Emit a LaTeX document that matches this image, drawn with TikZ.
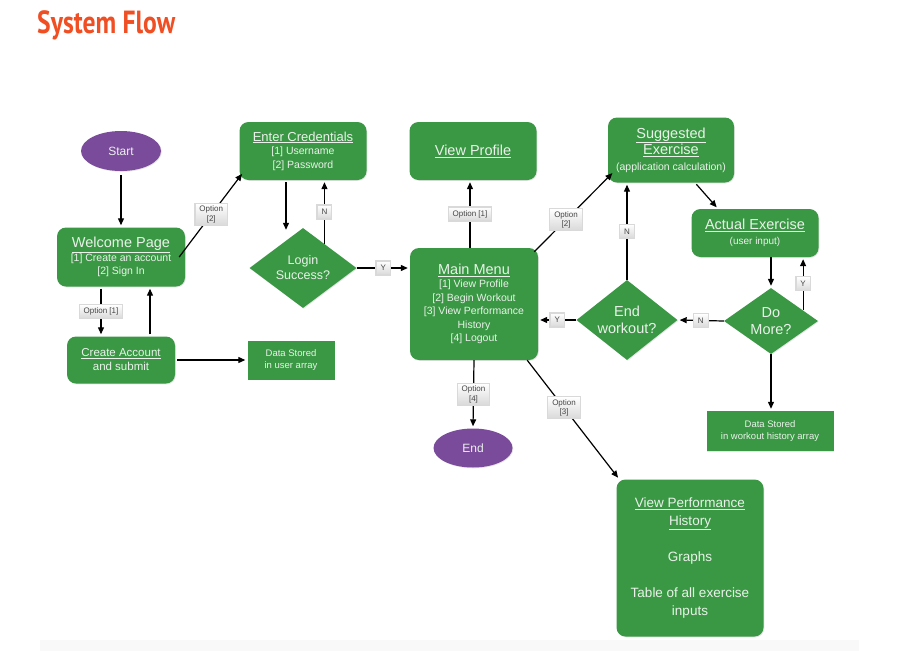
\documentclass[tikz,border=0pt]{standalone}
\usepackage{fontspec}
\setmainfont{Liberation Sans}
\newfontfamily\titlefont[FakeStretch=0.8]{PT Sans}
\usetikzlibrary{shapes.geometric, arrows.meta, shadows, calc}

\definecolor{flowgreen}{RGB}{58,152,68}
\definecolor{flowpurple}{RGB}{122,74,155}
\definecolor{flowtext}{RGB}{234,242,234}
\definecolor{titlered}{RGB}{240,78,35}

% underlined heading inside a box
\newcommand{\hd}[2][14.5]{{\fontsize{#1}{#1}\selectfont\underline{#2}}}

\begin{document}
\begin{tikzpicture}[x=1pt, y=-1pt,
    card/.style={rectangle, rounded corners=9pt, fill=flowgreen, text=flowtext, align=center, inner sep=2pt, font=\fontsize{10.5}{13.5}\selectfont, drop shadow={opacity=0.2, shadow xshift=0.8pt, shadow yshift=-0.8pt}},
    store/.style={card, sharp corners, font=\fontsize{9.5}{12}\selectfont},
    decision/.style={diamond, fill=flowgreen, text=flowtext, align=center, inner sep=0pt, font=\fontsize{14.5}{17}\selectfont, drop shadow={opacity=0.2, shadow xshift=0.8pt, shadow yshift=-0.8pt}},
    terminal/.style={ellipse, fill=flowpurple, text=flowtext, font=\fontsize{12}{14}\selectfont, minimum width=80pt, minimum height=40pt, drop shadow={opacity=0.2, shadow xshift=0.8pt, shadow yshift=-0.8pt}},
    tag/.style={rectangle, top color=white, bottom color=gray!30, draw=gray!30, text=gray!55!black, align=center, font=\fontsize{8}{9.5}\selectfont, inner xsep=4.5pt, inner ysep=2.5pt, minimum size=14pt, drop shadow={opacity=0.25, shadow xshift=0.6pt, shadow yshift=-0.6pt}},
    arrow/.style={-{Triangle[length=7pt, width=6pt]}, line width=1.2pt, shorten >=2pt, shorten <=2pt}
]
    \useasboundingbox[fill=white] (0,0) rectangle (898,651);
    \fill[gray!5] (40,640) rectangle (859,651);

    % Title
    \node[anchor=base west, inner sep=0pt, text=titlered, font=\titlefont\bfseries\fontsize{32}{32}\selectfont] (title) at (37,33) {System Flow};

    % Sign in side
    \node[terminal] (start) at (121,151) {Start};
    \node[card, minimum width=128pt, minimum height=59pt] (welcome) at (121,257) {\hd{Welcome Page}\\{[1]} Create an account\\{[2]} Sign In};
    \node[card, minimum width=108pt, minimum height=47pt, font=\fontsize{11.5}{14}\selectfont] (create) at (121,360) {\hd[11.5]{Create Account}\\and submit};
    \node[store, minimum width=87pt, minimum height=39pt] (userdata) at (291,360) {Data Stored\\in user array};
    \node[card, minimum width=127pt, minimum height=58pt] (cred) at (303,151) {\hd[13]{Enter Credentials}\\{[1]} Username\\{[2]} Password};
    \node[decision, minimum width=107pt, minimum height=80pt, shape aspect=1.3, font=\fontsize{12.5}{15}\selectfont] (login) at (303,268) {Login\\Success?};

    % Menu
    \node[card, minimum width=127pt, minimum height=58pt] (profile) at (473,151) {\hd{View Profile}};
    \node[card, minimum width=128pt, minimum height=112pt] (menu) at (474,304) {\hd{Main Menu}\\{[1]} View Profile\\{[2]} Begin Workout\\{[3]} View Performance\\History\\{[4]} Logout};
    \node[terminal, minimum width=79pt, minimum height=39pt] (end) at (473,448) {End};
    \node[card, minimum width=147pt, minimum height=157pt, font=\fontsize{13.5}{18}\selectfont] (perf) at (690,558) {\underline{View Performance}\\\underline{History}\\[18pt]Graphs\\[18pt]Table of all exercise\\inputs};

    % Workout loop
    \node[card, minimum width=126pt, minimum height=65pt, font=\fontsize{10.5}{16}\selectfont] (suggest) at (671,150) {\hd{Suggested}\\\hd{Exercise}\\(application calculation)};
    \node[card, minimum width=127pt, minimum height=48pt, font=\fontsize{10}{15}\selectfont] (actual) at (755,233) {\hd{Actual Exercise}\\(user input)};
    \node[decision, minimum width=94pt, minimum height=66pt, shape aspect=1.4] (more) at (771,321) {Do\\More?};
    \node[decision, minimum width=101pt, minimum height=80pt, shape aspect=1.25] (endwork) at (627,320) {End\\workout?};
    \node[store, minimum width=127pt, minimum height=40pt] (workdata) at (770,431) {Data Stored\\in workout history array};

    % Points on the diamonds
    \coordinate (loginN) at ($(login.north)!0.4!(login.east)$);
    \coordinate (moreY) at ($(more.north)!0.68!(more.east)$);

    % Arrows
    \draw[arrow, shorten <=4pt] (start) -- (welcome);
    \draw[arrow] ([xshift=-20pt]welcome.south) -- node[tag] (opt1) {Option [1]} ([xshift=-20pt]create.north);
    \draw[arrow] ([xshift=29pt]create.north) -- ([xshift=29pt]welcome.south);
    \draw[arrow] (create) -- (userdata);
    \draw[arrow, shorten <=0pt] ([xshift=-6pt]welcome.east) -- node[tag] (opt2) {Option\\{[2]}} ([xshift=4pt, yshift=8pt]cred.south west);
    \draw[arrow] ([xshift=-17pt]cred.south) -- ([xshift=-17pt, yshift=-4pt]cred.south |- login.north);
    \draw[arrow, shorten <=0pt] (loginN) -- node[tag] (no1) {N} (loginN |- cred.south);
    \draw[arrow, shorten <=0pt] (login.east) -- node[tag] (yes1) {Y} (login.east -| menu.west);
    \draw[arrow, shorten <=0pt] ([xshift=-4pt]menu.north) -- node[tag] (opt3) {Option [1]} ([xshift=-4pt]menu.north |- profile.south);
    \draw[arrow, shorten <=0pt] ([xshift=-4pt, yshift=-4pt]menu.north east) -- node[tag, pos=0.4] (opt4) {Option\\{[2]}} ([xshift=6pt, yshift=11pt]suggest.south west);
    \draw[arrow] ([xshift=24pt]suggest.south) -- ([xshift=-37pt]actual.north);
    \draw[arrow, shorten <=0pt] (more.north |- actual.south) -- (more.north);
    \draw[arrow, shorten <=0pt] (moreY) -- node[tag] (yes2) {Y} (moreY |- actual.south);
    \draw[arrow, shorten <=0pt] (more.west) -- node[tag] (no2) {N} (endwork.east);
    \draw[arrow, shorten <=0pt] (endwork.north) -- node[tag] (no3) {N} (endwork.north |- suggest.south);
    \draw[arrow, shorten <=0pt] (endwork.west) -- node[tag] (yes3) {Y} (endwork.west -| menu.east);
    \draw[arrow, shorten <=0pt] (menu.south) -- node[tag] (opt5) {Option\\{[4]}} (end.north);
    \draw[arrow, shorten <=0pt] ([xshift=-11pt]menu.south east) -- node[tag, pos=0.4] (opt6) {Option\\{[3]}} ([xshift=3pt]perf.north west);
    \draw[arrow, shorten <=0pt] (more.south) -- (more.south |- workdata.north);
\end{tikzpicture}
\end{document}
